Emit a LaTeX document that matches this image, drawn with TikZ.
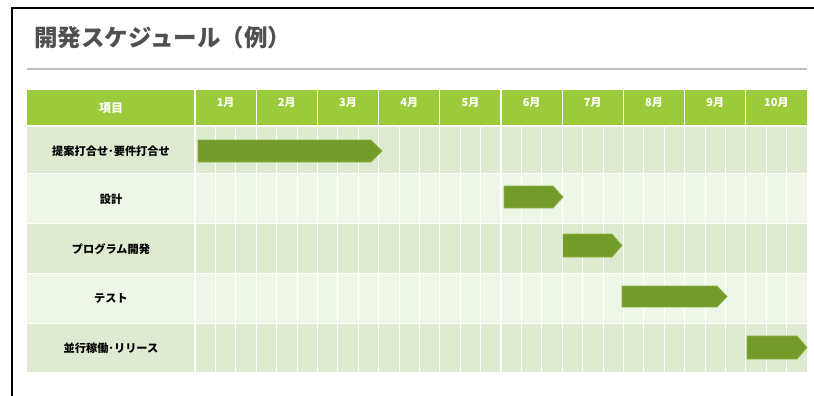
\documentclass[tikz,border=0pt]{standalone}
\usepackage{fontspec}
\setmainfont{Noto Sans CJK JP}
\definecolor{hdr}{HTML}{9BCB3B}
\definecolor{rowa}{HTML}{DEEBD1}
\definecolor{rowb}{HTML}{EEF6E8}
\definecolor{bar}{HTML}{739B29}
\definecolor{baredge}{HTML}{8DB444}
\definecolor{titlegray}{HTML}{505050}
\definecolor{rulegray}{HTML}{BFBFBF}
\tikzset{
  hdrtext/.style={text=white,font=\fontsize{11}{13}\selectfont\bfseries,inner sep=0pt},
  rowtext/.style={text=black,font=\fontsize{11.2}{13}\selectfont\bfseries,inner sep=0pt},
  ganttbar/.style={fill=bar,draw=baredge,line width=0.8pt},
  gridline/.style={draw=white,line width=1pt},
}
\begin{document}
\begin{tikzpicture}[x=1pt,y=-1pt]
\useasboundingbox (0,0) rectangle (814,396);
% frame (top and left)
\draw[line width=1.5pt] (12,396) -- (12,8) -- (814,8);
% title
\node[anchor=west,text=titlegray,font=\fontsize{23.5}{26}\selectfont\bfseries,inner sep=0pt] (title) at (34,38) {開発スケジュール（例）};
\draw[rulegray,line width=1.5pt] (27,69) -- (807,69);
% header
\fill[hdr] (27,90) rectangle (807,125);
\foreach \i in {0,...,9}{
  \draw[white,line width=1.2pt] ({195+61.2*\i},90) -- ({195+61.2*\i},125);
}
% body rows
\fill[rowa] (27,127) rectangle (807,173);
\fill[rowb] (27,173) rectangle (807,223);
\fill[rowa] (27,223) rectangle (807,273);
\fill[rowb] (27,273) rectangle (807,323);
\fill[rowa] (27,323) rectangle (807,372);
\foreach \i in {0,...,9}{
  \draw[gridline,line width=1.3pt] ({195+61.2*\i},127) -- ({195+61.2*\i},372);
  \draw[gridline,line width=0.8pt] ({195+61.2*\i+20.4},127) -- ({195+61.2*\i+20.4},372);
  \draw[gridline,line width=0.8pt] ({195+61.2*\i+40.8},127) -- ({195+61.2*\i+40.8},372);
}
\foreach \y in {173,223,273,323}{
  \draw[gridline] (27,\y) -- (807,\y);
}
% header labels
\node[hdrtext,font=\fontsize{12}{14}\selectfont\bfseries] (hitem) at (111,108) {項目};
\foreach \m [count=\i from 0] in {1,...,10}{
  \node[hdrtext] (m\m) at ({195+61.2*\i+30.6},103) {\m 月};
}
% row labels
\node[rowtext] (r1) at (111,151) {提案打合せ･要件打合せ};
\node[rowtext] (r2) at (111,199) {設計};
\node[rowtext] (r3) at (111,249) {プログラム開発};
\node[rowtext] (r4) at (111,298) {テスト};
\node[rowtext] (r5) at (111,348) {並行稼働･リリース};
% bars
\draw[ganttbar] (198,140) -- (371,140) -- (382,151) -- (371,162) -- (198,162) -- cycle;
\draw[ganttbar] (504,186) -- (553,186) -- (563,197) -- (553,208) -- (504,208) -- cycle;
\draw[ganttbar] (563,234) -- (612,234) -- (622,245.5) -- (612,257) -- (563,257) -- cycle;
\draw[ganttbar] (622,286) -- (717,286) -- (727,296.5) -- (717,307) -- (622,307) -- cycle;
\draw[ganttbar] (747,336) -- (797,336) -- (807,347.5) -- (797,359) -- (747,359) -- cycle;
\end{tikzpicture}
\end{document}
